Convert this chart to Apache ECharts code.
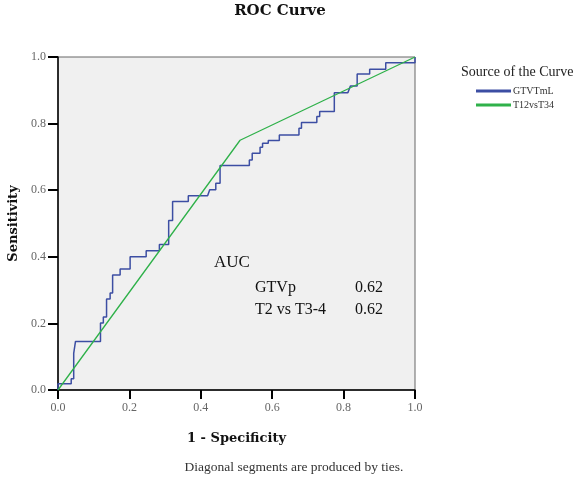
<!DOCTYPE html>
<html>
<head>
<meta charset="utf-8">
<script src="https://cdn.jsdelivr.net/npm/echarts@6/dist/echarts.min.js"></script>
<style>html,body{margin:0;padding:0;background:#fff;}#c{width:581px;height:480px;}</style>
</head>
<body>
<div id="c"></div>
<script>
// ROC step curve for GTVTmL (vertices)
var gtvX = [0,0,0.037,0.037,0.044,0.044,0.049,0.049,0.119,0.119,0.127,0.127,0.136,0.136,0.146,0.146,0.153,0.153,0.174,0.174,0.202,0.202,0.247,0.247,0.284,0.284,0.310,0.310,0.321,0.321,0.365,0.365,0.419,0.425,0.442,0.442,0.454,0.454,0.536,0.536,0.544,0.544,0.566,0.566,0.573,0.573,0.589,0.589,0.620,0.620,0.675,0.675,0.682,0.682,0.725,0.725,0.733,0.733,0.774,0.774,0.812,0.819,0.838,0.838,0.873,0.873,0.918,0.918,1,1];
var gtvY = [0,0.019,0.019,0.034,0.034,0.110,0.110,0.146,0.146,0.201,0.201,0.219,0.219,0.273,0.273,0.291,0.291,0.345,0.345,0.363,0.363,0.400,0.400,0.418,0.418,0.437,0.437,0.509,0.509,0.566,0.566,0.583,0.583,0.601,0.601,0.621,0.621,0.674,0.674,0.691,0.691,0.711,0.711,0.729,0.729,0.741,0.741,0.749,0.749,0.766,0.766,0.786,0.786,0.803,0.803,0.821,0.821,0.836,0.836,0.893,0.893,0.913,0.913,0.949,0.949,0.963,0.963,0.983,0.983,1];
// ROC curve for T12vsT34
var tX = [0, 0.51, 1];
var tY = [0, 0.75, 1];
var seriesNames = ['GTVTmL', 'T12vsT34'];
var tickValues = [0, 0.2, 0.4, 0.6, 0.8, 1.0];
var aucRows = [['GTVp', '0.62'], ['T2 vs T3-4', '0.62']];

function zip(a, b) { return a.map(function (v, i) { return [v, b[i]]; }); }

var chart = echarts.init(document.getElementById('c'));
var serif = 'Liberation Serif';
var axisCommon = {
  type: 'value', min: 0, max: 1, interval: 0.2,
  axisLine: { show: true, lineStyle: { color: '#000', width: 1.5 } },
  axisTick: { show: true, length: 9, lineStyle: { color: '#000', width: 2 } },
  splitLine: { show: false },
  axisLabel: { color: '#666', fontFamily: serif, fontSize: 12, formatter: function (v) { return v.toFixed(1); } }
};
var graphic = [
  { type: 'text', x: 280, y: 4, style: { text: 'ROC Curve', font: 'bold 15px "DejaVu Serif"', fill: '#111', textAlign: 'center' } },
  { type: 'text', x: 461, y: 65, style: { text: 'Source of the Curve', font: '14px "Liberation Serif"', fill: '#222' } },
  { type: 'text', x: 214, y: 254, style: { text: 'AUC', font: '17px "Liberation Serif"', fill: '#111' } }
];
aucRows.forEach(function (r, i) {
  graphic.push({ type: 'text', x: 255, y: 280 + i * 22, style: { text: r[0], font: '16px "Liberation Serif"', fill: '#111' } });
  graphic.push({ type: 'text', x: 355, y: 280 + i * 22, style: { text: r[1], font: '16px "Liberation Serif"', fill: '#111' } });
});
graphic.push({ type: 'text', x: 294, y: 460, style: { text: 'Diagonal segments are produced by ties.', font: '13.5px "Liberation Serif"', fill: '#333', textAlign: 'center' } });

chart.setOption({
  animation: false,
  backgroundColor: '#fff',
  grid: { left: 58, right: 166, top: 57, bottom: 90, containLabel: false, outerBoundsMode: 'none',
    show: true, backgroundColor: '#f0f0f0', borderColor: '#666', borderWidth: 1 },
  legend: {
    data: seriesNames, orient: 'vertical', left: 471, top: 81,
    itemWidth: 35, itemHeight: 3, itemGap: 4, icon: 'rect',
    textStyle: { fontFamily: serif, fontSize: 10, color: '#333', padding: [0, 0, 0, -3] }
  },
  xAxis: Object.assign({}, axisCommon, {
    name: '1 - Specificity', nameLocation: 'middle', nameGap: 42,
    nameTextStyle: { fontFamily: 'DejaVu Serif', fontWeight: 'bold', fontSize: 13, color: '#111' },
    axisLabel: Object.assign({}, axisCommon.axisLabel, { margin: 12 })
  }),
  yAxis: Object.assign({}, axisCommon, {
    name: 'Sensitivity', nameLocation: 'middle', nameGap: 35,
    nameTextStyle: { fontFamily: 'DejaVu Serif', fontWeight: 'bold', fontSize: 13, color: '#111' },
    axisTick: { show: true, length: 10, lineStyle: { color: '#000', width: 2 } },
    axisLabel: Object.assign({}, axisCommon.axisLabel, { margin: 12 })
  }),
  graphic: graphic,
  series: [
    { name: seriesNames[0], type: 'line', data: zip(gtvX, gtvY), showSymbol: false, symbol: 'none',
      lineStyle: { color: '#3c4ea3', width: 1.5 }, itemStyle: { color: '#3c4ea3' } },
    { name: seriesNames[1], type: 'line', data: zip(tX, tY), showSymbol: false, symbol: 'none',
      lineStyle: { color: '#2fb14a', width: 1.3 }, itemStyle: { color: '#2fb14a' } }
  ]
});
</script>
</body>
</html>
